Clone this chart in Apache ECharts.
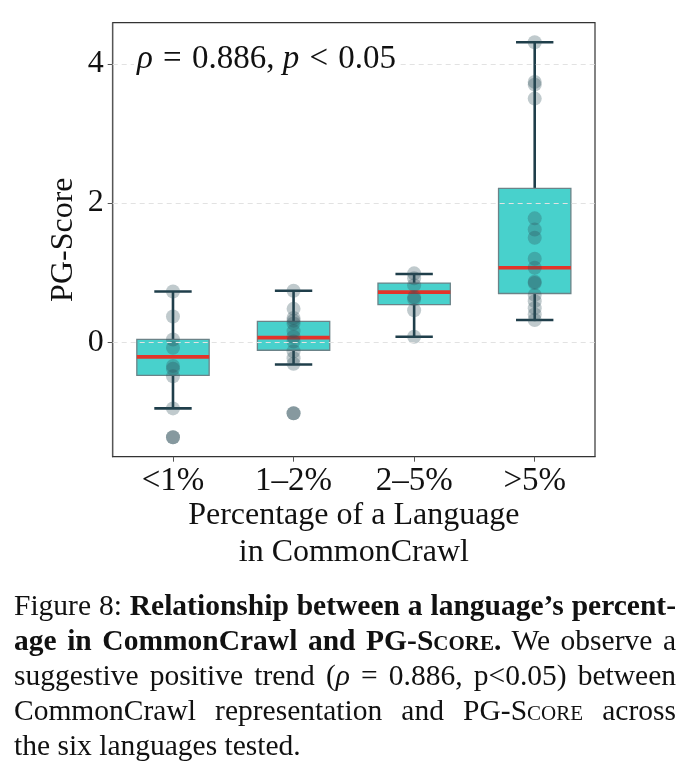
<!DOCTYPE html>
<html>
<head>
<meta charset="utf-8">
<script src="https://cdn.jsdelivr.net/npm/echarts@6/dist/echarts.min.js"></script>
<style>
  html, body { margin: 0; padding: 0; background: #fff; }
  #chart { position: absolute; left: 0; top: 0; width: 691px; height: 778px; }
  #caption {
    position: absolute; left: 14px; top: 588px; width: 662px;
    font-family: "Liberation Serif", "DejaVu Serif", serif;
    font-size: 29.5px; line-height: 35px; color: #111;
  }
  #caption .ln { display: block; text-align: justify; text-align-last: justify; white-space: nowrap; }
  #caption .ln.last { text-align-last: left; }
  .sc { font-variant: small-caps; }
</style>
</head>
<body>
<div id="chart"></div>
<div id="caption">
  <span class="ln">Figure 8: <b>Relationship between a language’s percent-</b></span>
  <span class="ln"><b>age in CommonCrawl and PG-<span class="sc">Score</span>.</b> We observe a</span>
  <span class="ln">suggestive positive trend (<i>ρ</i> = 0.886, p&lt;0.05) between</span>
  <span class="ln">CommonCrawl representation and PG-<span class="sc">Score</span> across</span>
  <span class="ln last">the six languages tested.</span>
</div>
<script>
// 分类
const categories = ['<1%', '1–2%', '2–5%', '>5%'];
// 箱线图统计值
const whiskerLow = [-0.95, -0.32, 0.08, 0.32];
const q1 = [-0.475, -0.115, 0.54, 0.70];
const median = [-0.21, 0.066, 0.72, 1.07];
const q3 = [0.04, 0.30, 0.85, 2.21];
const whiskerHigh = [0.73, 0.74, 0.98, 4.31];
// 每组的散点
const pointsLt1 = [0.73, 0.37, 0.04, -0.08, -0.34, -0.38, -0.49, -0.95, -1.365];
const points1to2 = [0.74, 0.48, 0.35, 0.31, 0.27, 0.16, 0.08, 0.01, -0.13, -0.23, -0.31, -1.02];
const points2to5 = [0.99, 0.92, 0.82, 0.65, 0.62, 0.46, 0.08];
const pointsGt5 = [4.31, 3.74, 3.70, 3.50, 1.78, 1.62, 1.50, 1.20, 1.07, 0.87, 0.85, 0.68, 0.59, 0.49, 0.40, 0.32];
// 离群点
const outliers = [[0, -1.365], [1, -1.02]];
const yTicks = [0, 2, 4];

const serif = '"Liberation Serif", "DejaVu Serif", serif';
const chart = echarts.init(document.getElementById('chart'));

let boxData = categories.map((c, i) => [i, whiskerLow[i], q1[i], median[i], q3[i], whiskerHigh[i]]);
let stripData = [];
[pointsLt1, points1to2, points2to5, pointsGt5].forEach((arr, i) => {
  arr.forEach(v => stripData.push([i, v]));
});

function renderBox(params, api) {
  let x = api.value(0);
  let band = api.size([1, 0])[0];
  let hw = band * 0.3;
  let cw = band * 0.155;
  let pLow = api.coord([x, api.value(1)]);
  let pQ1 = api.coord([x, api.value(2)]);
  let pMed = api.coord([x, api.value(3)]);
  let pQ3 = api.coord([x, api.value(4)]);
  let pHigh = api.coord([x, api.value(5)]);
  let cx = pMed[0];
  let whisker = { stroke: '#1f3e4a', lineWidth: 2.6 };
  return {
    type: 'group',
    children: [
      { type: 'line', shape: { x1: cx, y1: pQ1[1], x2: cx, y2: pLow[1] }, style: whisker },
      { type: 'line', shape: { x1: cx, y1: pQ3[1], x2: cx, y2: pHigh[1] }, style: whisker },
      { type: 'line', shape: { x1: cx - cw, y1: pLow[1], x2: cx + cw, y2: pLow[1] }, style: whisker },
      { type: 'line', shape: { x1: cx - cw, y1: pHigh[1], x2: cx + cw, y2: pHigh[1] }, style: whisker },
      {
        type: 'rect',
        shape: { x: cx - hw, y: pQ3[1], width: hw * 2, height: pQ1[1] - pQ3[1] },
        style: { fill: '#48d1cc', stroke: '#6b8388', lineWidth: 1.3 }
      },
      { type: 'line', shape: { x1: cx - hw, y1: pMed[1], x2: cx + hw, y2: pMed[1] }, style: { stroke: '#e3342a', lineWidth: 3.6 } }
    ]
  };
}

let option = {
  backgroundColor: '#fff',
  animation: false,
  grid: {
    left: 112.7, right: 96, top: 22.7, bottom: 321.3,
    show: true, borderColor: '#333', borderWidth: 1.2
  },
  xAxis: {
    type: 'category',
    data: categories,
    boundaryGap: true,
    axisLine: { show: true, onZero: false, lineStyle: { color: '#333', width: 1.2 } },
    axisTick: { show: true, alignWithLabel: true, length: 5, lineStyle: { color: '#555' } },
    axisLabel: { fontFamily: serif, fontSize: 33, color: '#111', margin: 8 },
    name: 'Percentage of a Language\nin CommonCrawl',
    nameLocation: 'middle',
    nameMoveOverlap: false,
    nameGap: 40,
    nameTextStyle: { fontFamily: serif, fontSize: 32, color: '#111', lineHeight: 37 }
  },
  yAxis: {
    type: 'value',
    min: -1.644,
    max: 4.59,
    axisLine: { show: true, lineStyle: { color: '#555', width: 1.2 } },
    axisTick: { show: true, length: 5, customValues: yTicks, lineStyle: { color: '#555' } },
    axisLabel: { fontFamily: serif, fontSize: 32, color: '#111', margin: 9, customValues: yTicks },
    splitLine: { show: false },
    name: 'PG-Score',
    nameLocation: 'middle',
    nameMoveOverlap: false,
    nameGap: 33,
    nameRotate: 90,
    nameTextStyle: { fontFamily: serif, fontSize: 32, color: '#111' }
  },
  graphic: [{
    type: 'text',
    left: 134,
    top: 41,
    z: 10,
    style: {
      text: '{i|ρ} {s|=} 0.886, {i|p} {s|<} 0.05',
      fontFamily: serif,
      fontSize: 33,
      fill: '#111',
      backgroundColor: '#fff',
      padding: [2, 3],
      rich: {
        i: { fontFamily: serif, fontSize: 33, fontStyle: 'italic', fill: '#111' },
        s: { fontFamily: serif, fontSize: 33, fill: '#111', padding: [0, 2] }
      }
    }
  }],
  series: [
    {
      // 离群点 + 网格线
      type: 'scatter',
      z: 1,
      data: outliers,
      symbolSize: 14,
      itemStyle: { color: '#2f4f5a', opacity: 0.4 },
      silent: true,
      markLine: {
        silent: true,
        symbol: 'none',
        label: { show: false },
        lineStyle: { type: [5, 4], color: '#e2e2e2', width: 1 },
        data: yTicks.map(v => ({ yAxis: v }))
      }
    },
    {
      type: 'custom',
      z: 2,
      renderItem: renderBox,
      data: boxData,
      encode: { x: 0, y: [1, 2, 3, 4, 5] }
    },
    {
      type: 'scatter',
      z: 3,
      data: stripData,
      symbolSize: 14,
      itemStyle: { color: '#2f4f5a', opacity: 0.3 }
    }
  ]
};

chart.setOption(option);
window.onresize = function () {
  chart.resize();
};
</script>
</body>
</html>
